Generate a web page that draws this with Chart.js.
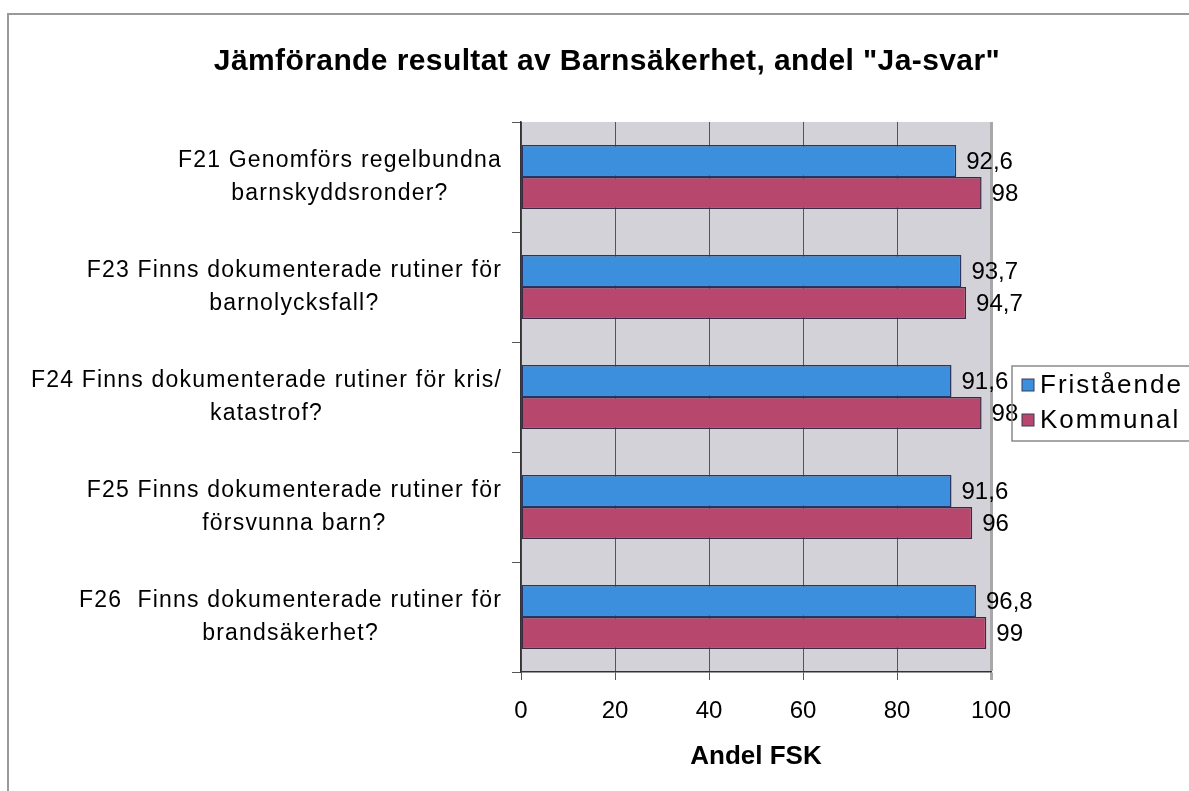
<!DOCTYPE html>
<html>
<head>
<meta charset="utf-8">
<script src="https://cdn.jsdelivr.net/npm/chart.js@4.4.1/dist/chart.umd.min.js"></script>
<style>
    html, body { margin: 0; padding: 0; background: #ffffff; }
    #wrap { width: 1189px; height: 791px; }
</style>
</head>
<body>
<div id="wrap"><canvas id="myChart" width="1189" height="791"></canvas></div>
<script>
const categories = [
    ['F21 Genomförs regelbundna', 'barnskyddsronder?'],
    ['F23 Finns dokumenterade rutiner för', 'barnolycksfall?'],
    ['F24 Finns dokumenterade rutiner för kris/', 'katastrof?'],
    ['F25 Finns dokumenterade rutiner för', 'försvunna barn?'],
    ['F26  Finns dokumenterade rutiner för', 'brandsäkerhet?']
];
const fristaende = [92.6, 93.7, 91.6, 91.6, 96.8];
const kommunal = [98, 94.7, 98, 96, 99];
const seriesNames = ['Fristående', 'Kommunal'];
const xTicks = [0, 20, 40, 60, 80, 100];

const chartTitle = 'Jämförande resultat av Barnsäkerhet, andel "Ja-svar"';
const axisTitle = 'Andel FSK';

const BLUE = '#3b8fdc';
const RED = '#b8476d';
const FONT = '"Liberation Sans", Arial, sans-serif';

Chart.defaults.font.family = FONT;
Chart.defaults.color = '#000';

const fmt = (v) => String(v).replace('.', ',');

// gray plot area, outer frame, title, category labels, values, legend
const decor = {
    id: 'decor',
    beforeDraw(chart) {
        const { ctx, chartArea: a } = chart;
        ctx.save();
        ctx.fillStyle = '#d2d2d8';
        ctx.fillRect(a.left, a.top, a.right - a.left, a.bottom - a.top);
        ctx.strokeStyle = '#9a9a9a';
        ctx.lineWidth = 2;
        ctx.beginPath();
        ctx.moveTo(8, 791);
        ctx.lineTo(8, 14);
        ctx.lineTo(1189, 14);
        ctx.stroke();
        ctx.restore();
    },
    afterDraw(chart) {
        const { ctx } = chart;
        const yScale = chart.scales.y;
        ctx.save();

        // title
        ctx.fillStyle = '#000';
        ctx.font = 'bold 30px ' + FONT;
        ctx.letterSpacing = '0.4px';
        ctx.textAlign = 'center';
        ctx.textBaseline = 'middle';
        ctx.fillText(chartTitle, 607, 62);

        // category labels, block right-aligned, lines centred
        ctx.font = '23px ' + FONT;
        ctx.letterSpacing = '1.2px';
        categories.forEach((lines, i) => {
            const cy = yScale.getPixelForValue(i);
            const w = Math.max(...lines.map(l => ctx.measureText(l).width));
            const cx = 502 - w / 2;
            lines.forEach((l, j) => {
                ctx.fillText(l, cx, cy + (j - 0.5) * 33);
            });
        });

        // value labels
        ctx.font = '24px ' + FONT;
        ctx.letterSpacing = '0px';
        ctx.textAlign = 'left';
        chart.data.datasets.forEach((ds, di) => {
            chart.getDatasetMeta(di).data.forEach((bar, i) => {
                ctx.fillText(fmt(ds.data[i]), bar.x + 10, bar.y + 1);
            });
        });

        // legend
        ctx.strokeStyle = '#8a8a8a';
        ctx.lineWidth = 1.5;
        ctx.beginPath();
        ctx.moveTo(1195, 366);
        ctx.lineTo(1012, 366);
        ctx.lineTo(1012, 441);
        ctx.lineTo(1195, 441);
        ctx.stroke();
        ctx.font = '26px ' + FONT;
        ctx.letterSpacing = '2px';
        [BLUE, RED].forEach((c, k) => {
            const y = 385 + k * 35;
            ctx.fillStyle = c;
            ctx.fillRect(1022, y - 6, 12, 12);
            ctx.strokeStyle = '#3a3a5a';
            ctx.lineWidth = 1;
            ctx.strokeRect(1022, y - 6, 12, 12);
            ctx.fillStyle = '#000';
            ctx.fillText(seriesNames[k], 1040, y + 1);
        });
        ctx.restore();
    }
};

const ctx = document.getElementById('myChart');

const data = {
    labels: categories.map(c => c.join(' ')),
    datasets: [
        {
            label: seriesNames[0],
            data: fristaende,
            backgroundColor: BLUE,
            borderColor: '#2b3560',
            borderWidth: 1.5,
            borderSkipped: false
        },
        {
            label: seriesNames[1],
            data: kommunal,
            backgroundColor: RED,
            borderColor: '#3b2a45',
            borderWidth: 1.5,
            borderSkipped: false
        }
    ]
};

const options = {
    indexAxis: 'y',
    responsive: false,
    animation: false,
    devicePixelRatio: 1,
    layout: {
        padding: { left: 0, right: 198, top: 122, bottom: 0 }
    },
    datasets: {
        bar: {
            categoryPercentage: 0.58,
            barPercentage: 1.0
        }
    },
    plugins: {
        legend: { display: false },
        title: { display: false },
        tooltip: { enabled: false }
    },
    scales: {
        x: {
            min: 0,
            max: 100,
            afterFit: (scale) => { scale.height = 119; },
            afterBuildTicks: (scale) => { scale.ticks = xTicks.map(v => ({ value: v })); },
            border: { display: true, color: '#333', width: 1.5 },
            grid: {
                color: (c) => c.tick && c.tick.value === 100 ? '#a8a8a8' : '#555',
                lineWidth: (c) => c.tick && c.tick.value === 100 ? 3 : 1,
                tickLength: 8,
                drawTicks: true
            },
            ticks: {
                color: '#000',
                padding: 17,
                font: { size: 24 }
            },
            title: {
                display: true,
                text: axisTitle,
                color: '#000',
                font: { size: 26, weight: 'bold' },
                padding: { top: 4, bottom: 19 }
            }
        },
        y: {
            afterFit: (scale) => { scale.width = 521; },
            border: { display: true, color: '#333', width: 1.5 },
            grid: {
                drawOnChartArea: false,
                drawTicks: true,
                tickLength: 9,
                color: '#555'
            },
            ticks: { display: false }
        }
    }
};

new Chart(ctx, {
    type: 'bar',
    data: data,
    options: options,
    plugins: [decor]
});
</script>
</body>
</html>
